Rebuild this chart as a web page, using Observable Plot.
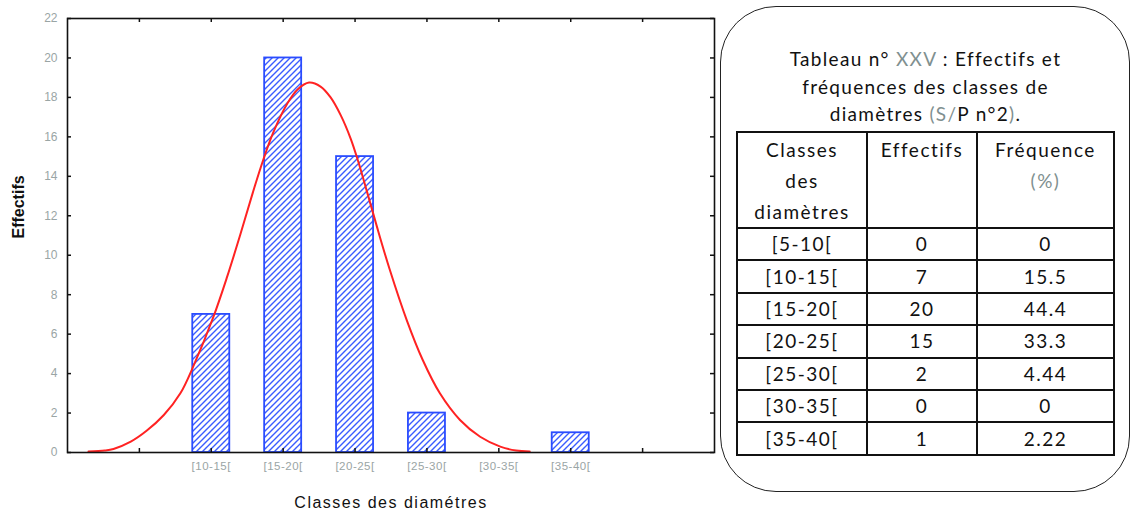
<!DOCTYPE html>
<html>
<head>
<meta charset="utf-8">
<script src="https://cdn.jsdelivr.net/npm/d3@7"></script>
<script src="https://cdn.jsdelivr.net/npm/@observablehq/plot@0.6"></script>
<style>
  body { margin: 0; background: #fff; }
  #wrap { position: relative; width: 1133px; height: 514px; overflow: hidden; }
  #box { position: absolute; left: 720px; top: 6px; width: 408px; height: 484px; border: 1.8px solid #222; border-radius: 56px; }
  #title { position: absolute; left: 720px; width: 411px; top: 45px; text-align: center;
           font-family: Lato, "Open Sans", sans-serif; font-size: 19px; letter-spacing: 1.3px; line-height: 27.5px; color: #111; }
  .gray { color: #7f9090; }
  #tbl { position: absolute; left: 736px; top: 131px; border-collapse: collapse; table-layout: fixed;
         font-family: Lato, "Open Sans", sans-serif; font-size: 19px; letter-spacing: 1.5px; color: #111; }
  #tbl td { border: 2px solid #111; text-align: center; padding: 0; white-space: nowrap; }
  #tbl tr.head td { vertical-align: top; height: 92px; line-height: 31px; padding-top: 1px; }
  #tbl tr.row td { height: 30.4px; line-height: 30px; }
</style>
</head>
<body>
<div id="wrap"></div>
<script>
// ---- data ----
const classes = ["[5-10[", "[10-15[", "[15-20[", "[20-25[", "[25-30[", "[30-35[", "[35-40["];
const classMid = [7.5, 12.5, 17.5, 22.5, 27.5, 32.5, 37.5];
const effectifs = [0, 7, 20, 15, 2, 0, 1];
const frequences = ["0", "15.5", "44.4", "33.3", "4.44", "0", "2.22"];
const yTicks = [0, 2, 4, 6, 8, 10, 12, 14, 16, 18, 20, 22];
const xTicks = [7.5, 12.5, 17.5, 22.5, 27.5, 32.5, 37.5, 42.5];
// fitted curve
const curveX = [3.96, 5.1, 5.7, 6.9, 8.0, 9.2, 10.35, 11.3, 12.66, 13.6, 14.5, 15.4, 16.1, 16.8, 17.8, 18.5, 19.3, 20.1, 20.8, 21.5, 22.2, 22.7, 23.3, 24.0, 24.9, 26.1, 27.2, 28.4, 29.8, 31.2, 32.6, 33.7, 34.65];
const curveY = [0.05, 0.1, 0.18, 0.55, 1.1, 1.9, 3.0, 4.45, 6.9, 8.9, 11.0, 13.2, 14.8, 16.2, 17.7, 18.4, 18.75, 18.55, 18.0, 17.1, 15.9, 14.8, 13.3, 11.5, 9.3, 6.7, 4.7, 3.0, 1.65, 0.8, 0.3, 0.1, 0.05];
const titleLines = ["Tableau n° <span class='gray'>XXV</span> : Effectifs et", "fréquences des classes de", "diamètres <span class='gray'>(S/</span>P n°2<span class='gray'>)</span>."];
const headCells = ["Classes<br>des<br>diamètres", "Effectifs", "Fréquence<br><span class='gray'>(%)</span>"];

// ---- chart ----
const W = 1133, H = 514;
const mL = 67, mR = 419, mT = 18, mB = 62;
const innerW = W - mL - mR, innerH = H - mT - mB;
const classWidth = 5, barFrac = 0.515;
const half = classWidth * barFrac / 2;

const bars = classes.map((c, i) => ({c, mid: classMid[i], n: effectifs[i]})).filter(d => d.n > 0);
const curve = curveX.map((x, i) => ({x, y: curveY[i]}));

const svg = Plot.plot({
  width: W, height: H,
  marginLeft: mL, marginRight: mR, marginTop: mT, marginBottom: mB,
  style: {fontFamily: "'Liberation Sans', Arial, sans-serif", background: "#fff"},
  x: {domain: [2.5, 47.5]},
  y: {domain: [0, 22]},
  marks: [
    Plot.rectY(bars, {x1: d => d.mid - half, x2: d => d.mid + half, y1: 0, y2: "n",
      fill: "url(#hatch)", stroke: "#2a4cff", strokeWidth: 1.8}),
    Plot.line(curve, {x: "x", y: "y", stroke: "#ff2222", strokeWidth: 2, curve: "catmull-rom"}),
    Plot.frame({stroke: "#111", strokeWidth: 1.6}),
    Plot.tickY(yTicks, {y: d => d, insetRight: innerW - 4, stroke: "#111", strokeWidth: 1.5}),
    Plot.tickY(yTicks, {y: d => d, insetLeft: innerW - 4, stroke: "#111", strokeWidth: 1.5}),
    Plot.tickX(xTicks, {x: d => d, insetTop: innerH - 4, stroke: "#111", strokeWidth: 1.5}),
    Plot.tickX(xTicks, {x: d => d, insetBottom: innerH - 4, stroke: "#111", strokeWidth: 1.5}),
    Plot.axisY({ticks: yTicks, tickSize: 0, tickPadding: 10, fontSize: 12, fill: "#9aa5a5", label: null}),
    Plot.axisX({ticks: xTicks, tickSize: 0, tickPadding: 9, fontSize: 11.5, fill: "#9aa5a5", label: null,
      tickFormat: d => { const i = classMid.indexOf(d); return i >= 1 ? classes[i] : ""; }}),
    Plot.text(["Effectifs"], {frameAnchor: "left", dx: -49, dy: 3, rotate: -90, fontSize: 16, fontWeight: "bold", fill: "#111"}),
    Plot.text(["Classes des diamétres"], {frameAnchor: "bottom", dy: 55, fontSize: 16, fill: "#111"})
  ]
});

// hatch pattern
const defs = d3.select(svg).insert("defs", ":first-child");
const pat = defs.append("pattern").attr("id", "hatch").attr("patternUnits", "userSpaceOnUse")
  .attr("width", 6).attr("height", 6);
pat.append("rect").attr("width", 6).attr("height", 6).attr("fill", "#fff");
pat.append("path").attr("d", "M-1,1 l2,-2 M0,6 l6,-6 M5,7 l2,-2")
  .attr("stroke", "#3a5cff").attr("stroke-width", 1.4);
d3.select(svg).selectAll("text").filter(function() { return this.textContent === "Classes des diamétres"; })
  .style("letter-spacing", "1.5px");
d3.select(svg).selectAll("g[aria-label='x-axis tick label'] text").style("letter-spacing", "0.5px");

const wrap = document.getElementById("wrap");
wrap.appendChild(svg);
svg.style.position = "absolute"; svg.style.left = "0"; svg.style.top = "0";

// ---- table panel ----
const box = document.createElement("div"); box.id = "box"; wrap.appendChild(box);
const title = document.createElement("div"); title.id = "title";
title.innerHTML = titleLines.join("<br>"); wrap.appendChild(title);
const tbl = document.createElement("table"); tbl.id = "tbl";
const colW = [130, 110, 137];
const cg = document.createElement("colgroup");
colW.forEach(w => { const c = document.createElement("col"); c.style.width = w + "px"; cg.appendChild(c); });
tbl.appendChild(cg);
const hr = tbl.insertRow(); hr.className = "head";
headCells.forEach(h => { const td = hr.insertCell(); td.innerHTML = h; });
classes.forEach((c, i) => {
  const r = tbl.insertRow(); r.className = "row";
  [c, String(effectifs[i]), frequences[i]].forEach(v => { const td = r.insertCell(); td.textContent = v; });
});
wrap.appendChild(tbl);
</script>
</body>
</html>
